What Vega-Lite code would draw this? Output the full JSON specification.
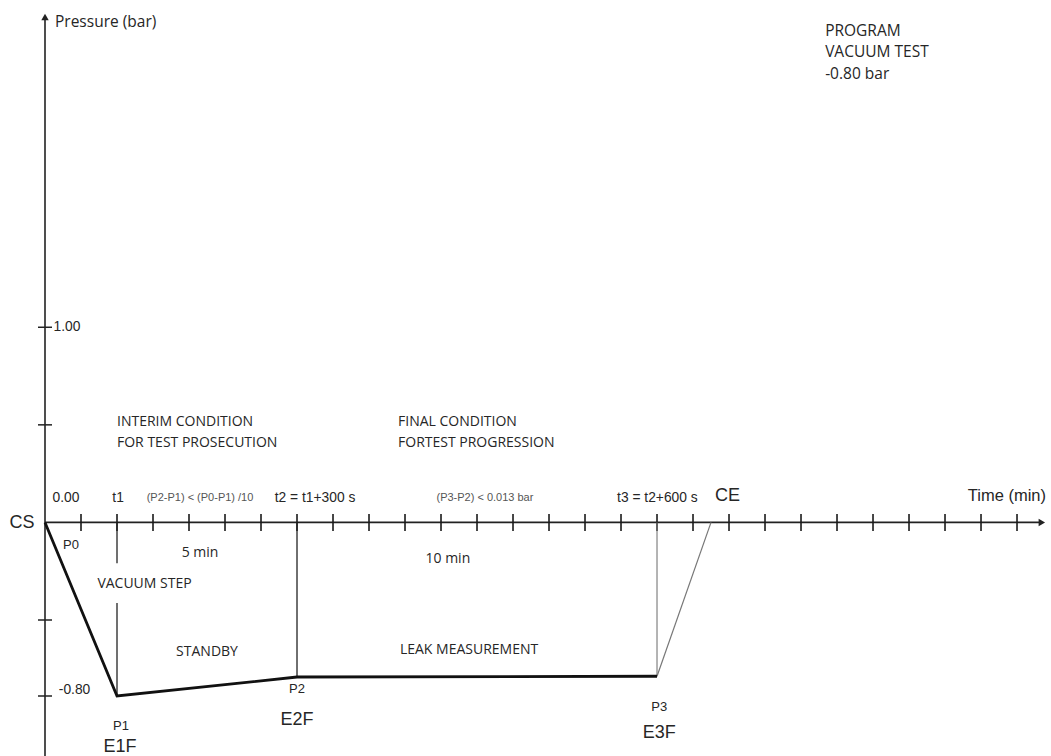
{
  "$schema": "https://vega.github.io/schema/vega-lite/v6.json",
  "width": 1051,
  "height": 756,
  "autosize": "none",
  "padding": 0,
  "background": "white",
  "config": {"view": {"stroke": null}},
  "datasets": {
    "axisLines": [
      {"x": 0, "y": -1.037, "x2": 0, "y2": 2.575},
      {"x": 0, "y": 0, "x2": 27.62, "y2": 0}
    ],
    "arrows": [
      {"x": 0, "y": 2.59, "dir": "up"},
      {"x": 27.69, "y": 0, "dir": "right"}
    ],
    "xTicks": [
      {"x": 1, "y": 0}, {"x": 2, "y": 0}, {"x": 3, "y": 0}, {"x": 4, "y": 0}, {"x": 5, "y": 0},
      {"x": 6, "y": 0}, {"x": 7, "y": 0}, {"x": 8, "y": 0}, {"x": 9, "y": 0}, {"x": 10, "y": 0},
      {"x": 11, "y": 0}, {"x": 12, "y": 0}, {"x": 13, "y": 0}, {"x": 14, "y": 0}, {"x": 15, "y": 0},
      {"x": 16, "y": 0}, {"x": 17, "y": 0}, {"x": 18, "y": 0}, {"x": 19, "y": 0}, {"x": 20, "y": 0},
      {"x": 21, "y": 0}, {"x": 22, "y": 0}, {"x": 23, "y": 0}, {"x": 24, "y": 0}, {"x": 25, "y": 0},
      {"x": 26, "y": 0}, {"x": 27, "y": 0}
    ],
    "yTicks": [
      {"x": 0, "y": 1.0}, {"x": 0, "y": 0.5}, {"x": 0, "y": -0.5}, {"x": 0, "y": -0.8}
    ],
    "pressure": [
      {"x": 0, "y": 0, "point": "P0"},
      {"x": 2, "y": -0.8, "point": "P1"},
      {"x": 7, "y": -0.725, "point": "P2"},
      {"x": 17, "y": -0.722, "point": "P3"}
    ],
    "release": [
      {"x": 17, "y": -0.722},
      {"x": 18.5, "y": 0}
    ],
    "guides": [
      {"x": 2, "y": 0, "x2": 2, "y2": -0.209},
      {"x": 2, "y": -0.413, "x2": 2, "y2": -0.8},
      {"x": 7, "y": 0, "x2": 7, "y2": -0.725}
    ],
    "guideLight": [
      {"x": 17, "y": 0, "x2": 17, "y2": -0.722}
    ],
    "titlesLarge": [
      {"x": 0.278, "y": 2.564, "label": "Pressure (bar)"},
      {"x": 21.67, "y": 2.52, "label": "PROGRAM"},
      {"x": 21.67, "y": 2.41, "label": "VACUUM TEST"},
      {"x": 21.67, "y": 2.3, "label": "-0.80 bar"}
    ],
    "conditions": [
      {"x": 2.0, "y": 0.513, "label": "INTERIM CONDITION"},
      {"x": 2.0, "y": 0.405, "label": "FOR TEST PROSECUTION"},
      {"x": 9.806, "y": 0.513, "label": "FINAL CONDITION"},
      {"x": 9.806, "y": 0.405, "label": "FORTEST PROGRESSION"}
    ],
    "phases": [
      {"x": 4.306, "y": -0.159, "label": "5 min"},
      {"x": 11.19, "y": -0.185, "label": "10 min"},
      {"x": 2.764, "y": -0.318, "label": "VACUUM STEP"},
      {"x": 4.5, "y": -0.626, "label": "STANDBY"},
      {"x": 11.78, "y": -0.618, "label": "LEAK MEASUREMENT"}
    ],
    "timeLabels": [
      {"x": 0.583, "y": 0.123, "label": "0.00"},
      {"x": 2.03, "y": 0.123, "label": "t1"},
      {"x": 7.5, "y": 0.123, "label": "t2 = t1+300 s"},
      {"x": 17.01, "y": 0.123, "label": "t3 = t2+600 s"},
      {"x": 0.61, "y": 1.0, "label": "1.00"},
      {"x": 0.82, "y": -0.776, "label": "-0.80"}
    ],
    "formulas": [
      {"x": 4.306, "y": 0.123, "label": "(P2-P1) < (P0-P1) /10"},
      {"x": 12.22, "y": 0.123, "label": "(P3-P2) < 0.013 bar"}
    ],
    "points": [
      {"x": 0.72, "y": -0.118, "label": "P0"},
      {"x": 2.11, "y": -0.918, "label": "P1"},
      {"x": 7.0, "y": -0.772, "label": "P2"},
      {"x": 17.06, "y": -0.843, "label": "P3"}
    ],
    "events": [
      {"x": -0.64, "y": -0.005, "label": "CS"},
      {"x": 18.96, "y": 0.133, "label": "CE"},
      {"x": 2.08, "y": -1.001, "label": "E1F"},
      {"x": 7.0, "y": -0.895, "label": "E2F"},
      {"x": 17.06, "y": -0.946, "label": "E3F"}
    ],
    "axisTitle": [
      {"x": 26.72, "y": 0.133, "label": "Time (min)"}
    ]
  },
  "encoding": {
    "x": {"field": "x", "type": "quantitative", "scale": {"domain": [-1.25, 27.944], "nice": false, "zero": false}, "axis": null},
    "y": {"field": "y", "type": "quantitative", "scale": {"domain": [-1.037, -0.8, -0.5, 2.677], "range": [756, 696, 620, 0], "nice": false, "zero": false}, "axis": null}
  },
  "layer": [
    {
      "data": {"name": "axisLines"},
      "mark": {"type": "rule", "color": "#222222", "strokeWidth": 1.6},
      "encoding": {"x2": {"field": "x2"}, "y2": {"field": "y2"}}
    },
    {
      "data": {"name": "arrows"},
      "mark": {"type": "point", "filled": true, "color": "#222222", "size": 55, "opacity": 1},
      "encoding": {"shape": {"field": "dir", "type": "nominal", "scale": {"domain": ["up", "right"], "range": ["triangle-up", "triangle-right"]}, "legend": null}}
    },
    {
      "data": {"name": "xTicks"},
      "mark": {"type": "tick", "orient": "vertical", "size": 17, "thickness": 1.6, "color": "#1a1a1a", "opacity": 1}
    },
    {
      "data": {"name": "yTicks"},
      "mark": {"type": "tick", "orient": "horizontal", "size": 14, "thickness": 1.5, "color": "#222222", "opacity": 1}
    },
    {
      "data": {"name": "guides"},
      "mark": {"type": "rule", "color": "#222222", "strokeWidth": 1.3},
      "encoding": {"x2": {"field": "x2"}, "y2": {"field": "y2"}}
    },
    {
      "data": {"name": "guideLight"},
      "mark": {"type": "rule", "color": "#777777", "strokeWidth": 1.1},
      "encoding": {"x2": {"field": "x2"}, "y2": {"field": "y2"}}
    },
    {
      "data": {"name": "release"},
      "mark": {"type": "line", "color": "#777777", "strokeWidth": 1.2},
      "encoding": {}
    },
    {
      "data": {"name": "pressure"},
      "mark": {"type": "line", "color": "#111111", "strokeWidth": 2.8, "strokeJoin": "miter"},
      "encoding": {}
    },
    {
      "data": {"name": "titlesLarge"},
      "mark": {"type": "text", "font": "Open Sans", "fontSize": 15.5, "align": "left", "baseline": "middle", "color": "#262626"},
      "encoding": {"text": {"field": "label"}}
    },
    {
      "data": {"name": "conditions"},
      "mark": {"type": "text", "font": "Open Sans", "fontSize": 14, "align": "left", "baseline": "middle", "color": "#262626"},
      "encoding": {"text": {"field": "label"}}
    },
    {
      "data": {"name": "phases"},
      "mark": {"type": "text", "font": "Open Sans", "fontSize": 14, "align": "center", "baseline": "middle", "color": "#262626"},
      "encoding": {"text": {"field": "label"}}
    },
    {
      "data": {"name": "timeLabels"},
      "mark": {"type": "text", "font": "Liberation Sans", "fontSize": 13.8, "align": "center", "baseline": "middle", "color": "#262626"},
      "encoding": {"text": {"field": "label"}}
    },
    {
      "data": {"name": "formulas"},
      "mark": {"type": "text", "font": "Liberation Sans", "fontSize": 11, "align": "center", "baseline": "middle", "color": "#555555"},
      "encoding": {"text": {"field": "label"}}
    },
    {
      "data": {"name": "points"},
      "mark": {"type": "text", "font": "Liberation Sans", "fontSize": 13, "align": "center", "baseline": "middle", "color": "#262626"},
      "encoding": {"text": {"field": "label"}}
    },
    {
      "data": {"name": "events"},
      "mark": {"type": "text", "font": "Liberation Sans", "fontSize": 18, "align": "center", "baseline": "middle", "color": "#262626"},
      "encoding": {"text": {"field": "label"}}
    },
    {
      "data": {"name": "axisTitle"},
      "mark": {"type": "text", "font": "Liberation Sans", "fontSize": 16.5, "align": "center", "baseline": "middle", "color": "#262626"},
      "encoding": {"text": {"field": "label"}}
    }
  ]
}
